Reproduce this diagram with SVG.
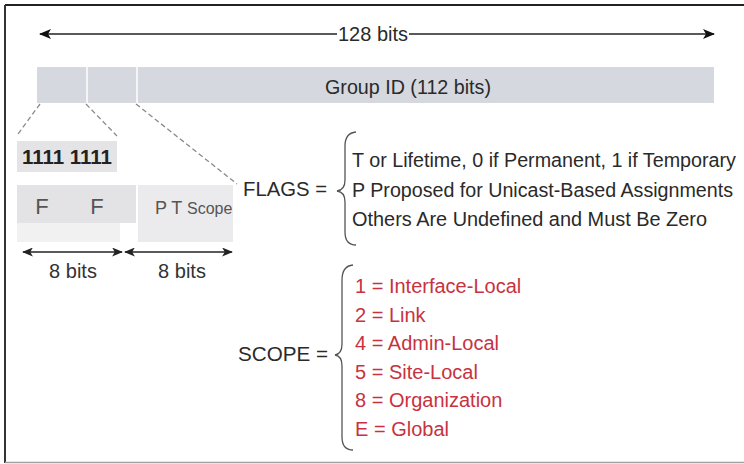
<svg xmlns="http://www.w3.org/2000/svg" width="744" height="464" viewBox="0 0 744 464">
  <defs>
    <marker id="ah" viewBox="0 0 12 10" refX="11" refY="5" markerWidth="12" markerHeight="10" markerUnits="userSpaceOnUse" orient="auto-start-reverse">
      <path d="M0,0 L12,5 L0,10 L3,5 Z" fill="#111"/>
    </marker>
    <marker id="ahs" viewBox="0 0 12 10" refX="11" refY="5" markerWidth="11" markerHeight="9" markerUnits="userSpaceOnUse" orient="auto-start-reverse">
      <path d="M0,0 L12,5 L0,10 L3,5 Z" fill="#222"/>
    </marker>
  </defs>
  <style>
    text { font-family: "Liberation Sans", Arial, sans-serif; }
    .lbl { font-size: 21px; fill: #2a2a2a; }
    .flg { font-size: 19.5px; fill: #2a2a2a; }
    .red { font-size: 20px; fill: #c8323f; }
    .dash { stroke: #8a8a8a; stroke-width: 1.3; stroke-dasharray: 5 3; fill: none; }
    .brace { stroke: #555; stroke-width: 1.3; fill: none; }
    .arrow { stroke: #222; stroke-width: 1.4; }
  </style>
  <rect x="0" y="0" width="744" height="464" fill="#ffffff"/>
  <!-- frame -->
  <line x1="5" y1="5" x2="744" y2="5" stroke="#222" stroke-width="2"/>
  <line x1="5" y1="5" x2="5" y2="463" stroke="#333" stroke-width="2"/>
  <line x1="5" y1="462.5" x2="744" y2="462.5" stroke="#a0a0a0" stroke-width="1.5"/>

  <g id="total-width">
    <text x="373" y="41" text-anchor="middle" class="lbl" style="font-size:20px" textLength="70" lengthAdjust="spacingAndGlyphs">128 bits</text>
  </g>

  <g id="address-bar">
    <rect x="37" y="67" width="677" height="36" fill="#d5d8de"/>
    <line x1="87" y1="67" x2="87" y2="103" stroke="#ffffff" stroke-width="1.5"/>
    <line x1="137" y1="67" x2="137" y2="103" stroke="#ffffff" stroke-width="1.5"/>
    <text x="408" y="94" text-anchor="middle" class="lbl" textLength="166" lengthAdjust="spacingAndGlyphs">Group ID (112 bits)</text>
  </g>

  <g id="prefix-box">
    <rect x="17" y="141" width="100" height="31" fill="#e4e4e6"/>
    <text x="67" y="164" text-anchor="middle" font-weight="bold" style="font-size:20px;fill:#222" textLength="90" lengthAdjust="spacingAndGlyphs">1111 1111</text>
  </g>

  <g id="ff-box">
    <rect x="17" y="185" width="119" height="38" fill="#e3e3e5"/>
    <rect x="17" y="223" width="103" height="19" fill="#f1f1f2"/>
    <text x="42" y="214" text-anchor="middle" style="font-size:22px;fill:#555">F</text>
    <text x="97" y="214" text-anchor="middle" style="font-size:22px;fill:#555">F</text>
  </g>

  <g id="flags-scope-box">
    <rect x="138" y="185" width="95" height="57" fill="#ebebed"/>
    <text x="155" y="214" style="font-size:18px;fill:#555">P T <tspan style="font-size:16px">Scope</tspan></text>
  </g>

  <g id="bit-labels">
    <text x="73" y="278" text-anchor="middle" class="lbl" style="font-size:20px;fill:#333">8 bits</text>
    <text x="182" y="278" text-anchor="middle" class="lbl" style="font-size:20px;fill:#333">8 bits</text>
  </g>

  <g id="flags">
    <text x="243" y="196" class="lbl" textLength="84" lengthAdjust="spacingAndGlyphs">FLAGS =</text>
    <path class="brace" d="M356,132 Q345,133 345,146 L345,180 Q345,190 337,191 Q345,192 345,202 L345,232 Q345,245 356,245"/>
    <text x="352" y="167" class="flg" textLength="384" lengthAdjust="spacingAndGlyphs">T or Lifetime, 0 if Permanent, 1 if Temporary</text>
    <text x="352" y="197" class="flg" textLength="381" lengthAdjust="spacingAndGlyphs">P Proposed for Unicast-Based Assignments</text>
    <text x="352" y="226" class="flg" textLength="355" lengthAdjust="spacingAndGlyphs">Others Are Undefined and Must Be Zero</text>
  </g>

  <g id="scope">
    <text x="238" y="361" class="lbl" textLength="90" lengthAdjust="spacingAndGlyphs">SCOPE =</text>
    <path class="brace" d="M353,265 Q342,266 342,280 L342,344 Q342,354 335,355 Q342,356 342,366 L342,437 Q342,450 353,450"/>
    <text x="355" y="293" class="red">1 = Interface-Local</text>
    <text x="355" y="322" class="red">2 = Link</text>
    <text x="355" y="350" class="red">4 = Admin-Local</text>
    <text x="355" y="379" class="red">5 = Site-Local</text>
    <text x="355" y="407" class="red">8 = Organization</text>
    <text x="355" y="436" class="red">E = Global</text>
  </g>

  <g id="connectors">
    <line class="arrow" x1="337" y1="34" x2="40" y2="34" marker-end="url(#ah)"/>
    <line class="arrow" x1="409" y1="34" x2="714" y2="34" marker-end="url(#ah)"/>
    <line class="dash" x1="40" y1="104" x2="18" y2="134"/>
    <line class="dash" x1="86" y1="104" x2="117" y2="136"/>
    <line class="dash" x1="136" y1="104" x2="237" y2="184"/>
    <line class="arrow" x1="23" y1="252" x2="122" y2="252" marker-start="url(#ahs)" marker-end="url(#ahs)"/>
    <line class="arrow" x1="125" y1="252" x2="232" y2="252" marker-start="url(#ahs)" marker-end="url(#ahs)"/>
  </g>
</svg>
